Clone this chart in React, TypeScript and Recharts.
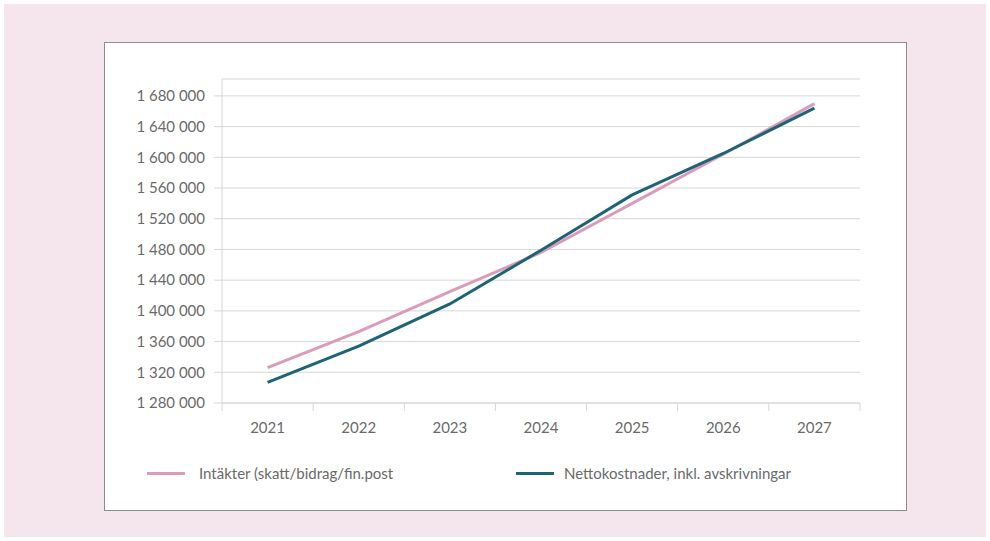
import { LineChart, Line, XAxis, YAxis, CartesianGrid, Legend } from 'recharts';

const years = [2021, 2022, 2023, 2024, 2025, 2026, 2027];
const intakter = [1326000, 1373000, 1425000, 1476000, 1540000, 1604000, 1670000];
const nettokostnader = [1307000, 1354000, 1409000, 1479000, 1551000, 1605000, 1664000];
const yTicks = [1280000, 1320000, 1360000, 1400000, 1440000, 1480000, 1520000, 1560000, 1600000, 1640000, 1680000];

const seriesNames = ['Intäkter (skatt/bidrag/fin.post', 'Nettokostnader, inkl. avskrivningar'];
const PINK = '#db9cbc';
const TEAL = '#1e6476';
const GRID = '#d6d6d6';
const TEXT = '#6a6a6a';
const FONT = 'Lato, "Open Sans", sans-serif';

const data = years.map((y, i) => ({ year: y, a: intakter[i], b: nettokostnader[i] }));

const fmt = (v: number) => String(v).replace(/\B(?=(\d{3})+(?!\d))/g, ' ');

const HALF = 638 / 7 / 2;

function XTick(props: any) {
  const { x, y, payload, index } = props;
  return (
    <g>
      <line x1={x - HALF} x2={x - HALF} y1={y - 8} y2={y} stroke={GRID} />
      {index === years.length - 1 && (
        <line x1={x + HALF} x2={x + HALF} y1={y - 8} y2={y} stroke={GRID} />
      )}
      <text x={x} y={y + 22} textAnchor="middle" fill={TEXT} fontSize={15} fontFamily={FONT}>
        {payload.value}
      </text>
    </g>
  );
}

function LegendBox() {
  const items = [
    { name: seriesNames[0], color: PINK, left: 42, gap: 14 },
    { name: seriesNames[1], color: TEAL, left: 411, gap: 10 },
  ];
  return (
    <div style={{ position: 'relative', height: 24, fontFamily: FONT, fontSize: 15, color: TEXT }}>
      {items.map((it) => (
        <div key={it.name} style={{ position: 'absolute', left: it.left, top: 0, display: 'flex', alignItems: 'center' }}>
          <span style={{ display: 'inline-block', width: 38, height: 3, background: it.color, marginRight: it.gap }} />
          <span>{it.name}</span>
        </div>
      ))}
    </div>
  );
}

export default function App() {
  return (
    <div style={{ position: 'absolute', left: 0, top: 0, width: 990, height: 541, background: '#fff' }}>
      <div style={{ position: 'absolute', left: 4, top: 4, width: 982, height: 533, background: '#f5e5ed' }} />
      <div
        style={{
          position: 'absolute',
          left: 104,
          top: 42,
          width: 803,
          height: 469,
          background: '#fff',
          border: '1px solid #8c8c8c',
          boxSizing: 'border-box',
        }}
      >
        <LineChart width={801} height={467} data={data} margin={{ top: 36, right: 46, left: 17, bottom: 53 }}>
          <CartesianGrid vertical={false} stroke={GRID} />
          <XAxis
            dataKey="year"
            type="number"
            domain={[2020.5, 2027.5]}
            ticks={years}
            tickLine={false}
            axisLine={{ stroke: GRID }}
            tick={<XTick />}
            height={30}
            interval={0}
          />
          <YAxis
            domain={[1280000, 1702000]}
            ticks={yTicks}
            tickFormatter={fmt}
            width={100}
            tickSize={8}
            tickMargin={9}
            tickLine={{ stroke: GRID }}
            axisLine={{ stroke: GRID }}
            tick={{ fill: TEXT, fontSize: 15, fontFamily: FONT }}
            interval={0}
            allowDataOverflow
          />
          <Legend
            content={<LegendBox />}
            wrapperStyle={{ position: 'absolute', left: 0, top: 421, width: 801 }}
          />
          <Line dataKey="a" name={seriesNames[0]} stroke={PINK} strokeWidth={3} dot={false} isAnimationActive={false} />
          <Line dataKey="b" name={seriesNames[1]} stroke={TEAL} strokeWidth={3} dot={false} isAnimationActive={false} />
        </LineChart>
      </div>
    </div>
  );
}
